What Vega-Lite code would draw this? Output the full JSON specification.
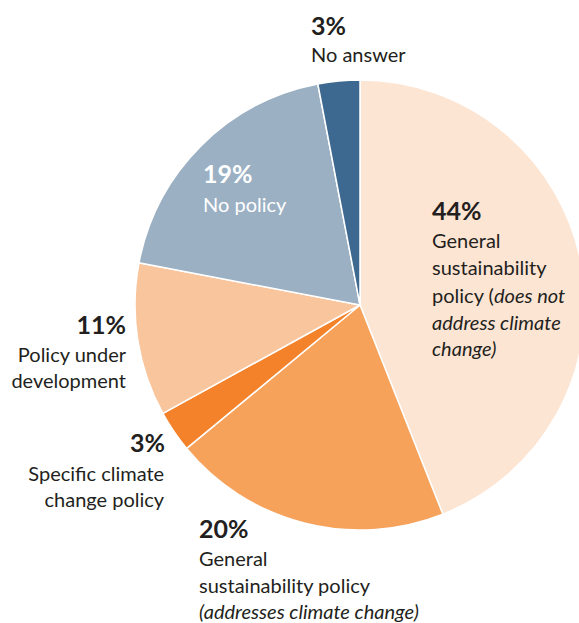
{
  "$schema": "https://vega.github.io/schema/vega-lite/v6.json",
  "width": 438,
  "height": 610,
  "autosize": {"type": "none"},
  "padding": {"left": 141, "top": 0, "right": 0, "bottom": 13},
  "background": "white",
  "config": {"view": {"stroke": null}},
  "data": {
    "values": [
      {"key": "A", "name": "General sustainability policy (does not address climate change)", "share": 44, "pct": "44%", "idx": 1},
      {"key": "B", "name": "General sustainability policy (addresses climate change)", "share": 20, "pct": "20%", "idx": 2},
      {"key": "C", "name": "Specific climate change policy", "share": 3, "pct": "3%", "idx": 3},
      {"key": "D", "name": "Policy under development", "share": 11, "pct": "11%", "idx": 4},
      {"key": "E", "name": "No policy", "share": 19, "pct": "19%", "idx": 5},
      {"key": "F", "name": "No answer", "share": 3, "pct": "3%", "idx": 6}
    ]
  },
  "encoding": {
    "theta": {"field": "share", "type": "quantitative", "stack": true},
    "order": {"field": "idx", "type": "quantitative"}
  },
  "layer": [
    {
      "mark": {"type": "arc", "outerRadius": 225, "stroke": "white", "strokeWidth": 1.5},
      "encoding": {
        "color": {
          "field": "key", "type": "nominal", "legend": null,
          "scale": {"domain": ["A", "B", "C", "D", "E", "F"], "range": ["#FDE5D4", "#F6A25B", "#F3822B", "#F9C59D", "#9BB0C3", "#3D6990"]}
        }
      }
    },
    {
      "mark": {"type": "text", "font": "Lato", "fontSize": 25, "fontWeight": "bold", "align": "left", "baseline": "alphabetic", "dx": -10.5, "dy": -69.3, "color": "#231F20"},
      "encoding": {"radius": {"value": 84}, "text": {"condition": {"test": "datum.key === 'A'", "field": "pct"}, "value": ""}}
    },
    {
      "mark": {"type": "text", "font": "Lato", "fontSize": 20, "align": "left", "baseline": "alphabetic", "lineHeight": 27.5, "dx": -10.5, "dy": -41.3, "color": "#231F20"},
      "encoding": {"radius": {"value": 84}, "text": {"condition": {"test": "datum.key === 'A'", "value": ["General", "sustainability"]}, "value": ""}}
    },
    {
      "mark": {"type": "text", "font": "Lato", "fontSize": 20, "align": "left", "baseline": "alphabetic", "dx": -10.5, "dy": 13.7, "color": "#231F20"},
      "encoding": {"radius": {"value": 84}, "text": {"condition": {"test": "datum.key === 'A'", "value": "policy ("}, "value": ""}}
    },
    {
      "mark": {"type": "text", "font": "Lato", "fontSize": 20, "fontStyle": "italic", "align": "left", "baseline": "alphabetic", "dx": 51.5, "dy": 13.7, "color": "#231F20"},
      "encoding": {"radius": {"value": 84}, "text": {"condition": {"test": "datum.key === 'A'", "value": "does not"}, "value": ""}}
    },
    {
      "mark": {"type": "text", "font": "Lato", "fontSize": 20, "fontStyle": "italic", "align": "left", "baseline": "alphabetic", "lineHeight": 26, "dx": -10.5, "dy": 40.7, "color": "#231F20"},
      "encoding": {"radius": {"value": 84}, "text": {"condition": {"test": "datum.key === 'A'", "value": ["address climate", "change)"]}, "value": ""}}
    },
    {
      "mark": {"type": "text", "font": "Lato", "fontSize": 25, "fontWeight": "bold", "align": "left", "baseline": "alphabetic", "dx": -101.3, "dy": 0.5, "color": "#231F20"},
      "encoding": {"radius": {"value": 240}, "text": {"condition": {"test": "datum.key === 'B'", "field": "pct"}, "value": ""}}
    },
    {
      "mark": {"type": "text", "font": "Lato", "fontSize": 20, "align": "left", "baseline": "alphabetic", "lineHeight": 27, "dx": -101.3, "dy": 28.5, "color": "#231F20"},
      "encoding": {"radius": {"value": 240}, "text": {"condition": {"test": "datum.key === 'B'", "value": ["General", "sustainability policy"]}, "value": ""}}
    },
    {
      "mark": {"type": "text", "font": "Lato", "fontSize": 20, "fontStyle": "italic", "align": "left", "baseline": "alphabetic", "dx": -101.3, "dy": 81.5, "color": "#231F20"},
      "encoding": {"radius": {"value": 240}, "text": {"condition": {"test": "datum.key === 'B'", "value": "(addresses climate change)"}, "value": ""}}
    },
    {
      "mark": {"type": "text", "font": "Lato", "fontSize": 25, "fontWeight": "bold", "align": "right", "baseline": "alphabetic", "dx": 6.8, "dy": 9.8, "color": "#231F20"},
      "encoding": {"radius": {"value": 244}, "text": {"condition": {"test": "datum.key === 'C'", "field": "pct"}, "value": ""}}
    },
    {
      "mark": {"type": "text", "font": "Lato", "fontSize": 20, "align": "right", "baseline": "alphabetic", "lineHeight": 26, "dx": 6, "dy": 38.8, "color": "#231F20"},
      "encoding": {"radius": {"value": 244}, "text": {"condition": {"test": "datum.key === 'C'", "value": ["Specific climate", "change policy"]}, "value": ""}}
    },
    {
      "mark": {"type": "text", "font": "Lato", "fontSize": 25, "fontWeight": "bold", "align": "right", "baseline": "alphabetic", "dx": -0.9, "dy": -7.9, "color": "#231F20"},
      "encoding": {"radius": {"value": 236}, "text": {"condition": {"test": "datum.key === 'D'", "field": "pct"}, "value": ""}}
    },
    {
      "mark": {"type": "text", "font": "Lato", "fontSize": 20, "align": "right", "baseline": "alphabetic", "lineHeight": 26, "dx": -0.9, "dy": 20.1, "color": "#231F20"},
      "encoding": {"radius": {"value": 236}, "text": {"condition": {"test": "datum.key === 'D'", "value": ["Policy under", "development"]}, "value": ""}}
    },
    {
      "mark": {"type": "text", "font": "Lato", "fontSize": 25, "fontWeight": "bold", "align": "left", "baseline": "alphabetic", "dx": -17.7, "dy": 17.3, "color": "white"},
      "encoding": {"radius": {"value": 197}, "text": {"condition": {"test": "datum.key === 'E'", "field": "pct"}, "value": ""}}
    },
    {
      "mark": {"type": "text", "font": "Lato", "fontSize": 20, "align": "left", "baseline": "alphabetic", "dx": -17.7, "dy": 46.3, "color": "white"},
      "encoding": {"radius": {"value": 197}, "text": {"condition": {"test": "datum.key === 'E'", "field": "name"}, "value": ""}}
    },
    {
      "mark": {"type": "text", "font": "Lato", "fontSize": 25, "fontWeight": "bold", "align": "left", "baseline": "alphabetic", "dx": -23.3, "dy": 1.8, "color": "#231F20"},
      "encoding": {"radius": {"value": 273}, "text": {"condition": {"test": "datum.key === 'F'", "field": "pct"}, "value": ""}}
    },
    {
      "mark": {"type": "text", "font": "Lato", "fontSize": 20, "align": "left", "baseline": "alphabetic", "dx": -23.3, "dy": 28.8, "color": "#231F20"},
      "encoding": {"radius": {"value": 273}, "text": {"condition": {"test": "datum.key === 'F'", "field": "name"}, "value": ""}}
    }
  ]
}
